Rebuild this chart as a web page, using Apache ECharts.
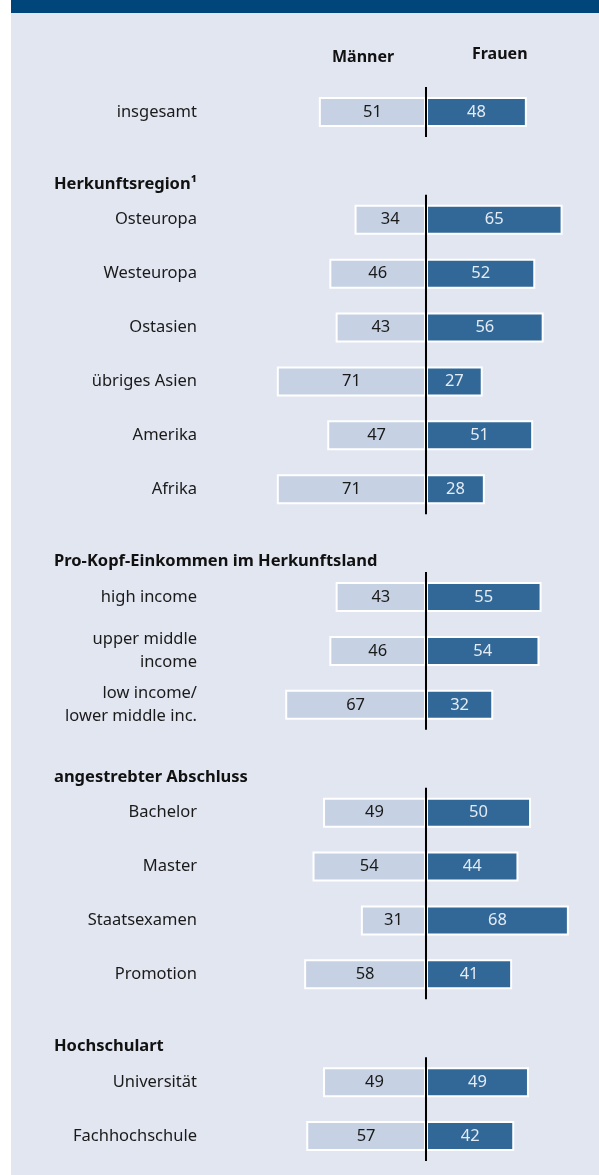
<!DOCTYPE html>
<html><head><meta charset="utf-8">
<script src="https://cdn.jsdelivr.net/npm/echarts@6/dist/echarts.min.js"></script>
<style>html,body{margin:0;padding:0;background:#fff}#c{width:599px;height:1175px}</style>
</head><body><div id="c"></div>
<script>
// slots: '' label rows; '#...' = group header row
const categories = ['insgesamt','#Herkunftsregion¹','Osteuropa','Westeuropa','Ostasien','übriges Asien','Amerika','Afrika',
  '#Pro-Kopf-Einkommen im Herkunftsland','high income','upper middle\nincome','low income/\nlower middle inc.',
  '#angestrebter Abschluss','Bachelor','Master','Staatsexamen','Promotion',
  '#Hochschulart','Universität','Fachhochschule'];
const maenner = [51,null,34,46,43,71,47,71,null,43,46,67,null,49,54,31,58,null,49,57];
const frauen  = [48,null,65,52,56,27,51,28,null,55,54,32,null,50,44,68,41,null,49,42];
const seriesNames = ['Männer','Frauen'];
const groups = [[0,0],[2,7],[9,11],[13,16],[18,19]];

const FONT = 'Noto Sans';
const chart = echarts.init(document.getElementById('c'), null, {renderer:'canvas'});
const labelCats = categories.map(c => c.startsWith('#') ? '' : c);

const baseGraphic = [
  {type:'rect', z:-10, shape:{x:11,y:0,width:588,height:1175}, style:{fill:'#e2e6f1'}},
  {type:'rect', z:-9, shape:{x:11,y:0,width:588,height:13}, style:{fill:'#00467a'}},
  {type:'text', left:332, top:49, style:{text:seriesNames[0], font:'bold 16px "Noto Sans"', fill:'#111'}},
  {type:'text', left:472, top:46, style:{text:seriesNames[1], font:'bold 16px "Noto Sans"', fill:'#111'}}
];

chart.setOption({
  animation:false,
  backgroundColor:'transparent',
  graphic:baseGraphic,
  grid:{left:260, right:7, top:85, bottom:12},
  xAxis:{type:'value', min:-79, max:79, show:false},
  yAxis:{type:'category', data:labelCats, inverse:true,
     axisLine:{show:false}, axisTick:{show:false}, splitLine:{show:false},
     axisLabel:{margin:63, fontFamily:FONT, fontSize:16.5, color:'#1a1a1a', lineHeight:23, align:'right'}},
  series:[
    {name:seriesNames[0], type:'bar', barWidth:30, barGap:'-100%',
     data:maenner.map(v => v==null ? null : -v),
     itemStyle:{color:'#c6d2e3', borderColor:'#ffffff', borderWidth:2},
     label:{show:true, position:'inside', formatter:p => Math.abs(p.value), fontFamily:FONT, fontSize:16.5, color:'#1a1a1a'}},
    {name:seriesNames[1], type:'bar', barWidth:30,
     data:frauen,
     itemStyle:{color:'#316898', borderColor:'#ffffff', borderWidth:2},
     label:{show:true, position:'inside', fontFamily:FONT, fontSize:16.5, color:'#e4ebf3'}},
    {type:'custom', z:10, data:groups,
     renderItem:(params, api) => {
       const a = api.coord([0, api.value(0)]);
       const b = api.coord([0, api.value(1)]);
       const half = api.size([0,1])[1]/2 - 2;
       return {type:'line', shape:{x1:a[0], y1:a[1]-half, x2:b[0], y2:b[1]+half},
               style:{stroke:'#000', lineWidth:2}};
     },
     encode:{x:-1, y:[0,1]}}
  ]
});

// group headers placed via the category axis scale
const headers = [];
categories.forEach((c, i) => {
  if (c.startsWith('#')) {
    const y = chart.convertToPixel({yAxisIndex:0}, i);
    headers.push({type:'text', left:54, top:y + 21 - 11,
      style:{text:c.slice(1), font:'bold 16.5px "Noto Sans"', fill:'#111'}});
  }
});
chart.setOption({graphic: baseGraphic.concat(headers)}, {replaceMerge:['graphic']});
</script></body></html>
